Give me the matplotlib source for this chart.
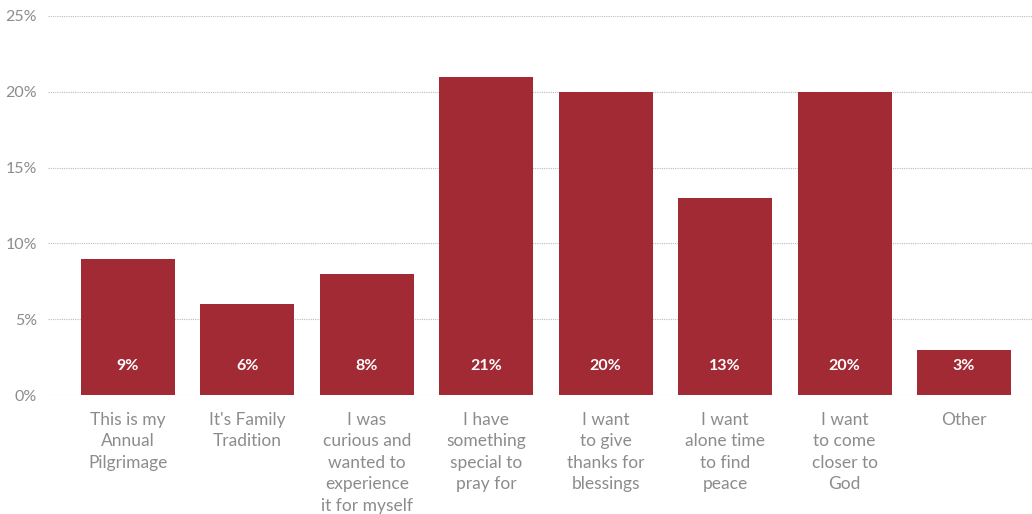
import matplotlib.pyplot as plt
import numpy as np

plt.rcParams['font.family'] = ['Lato', 'DejaVu Sans']

# Reasons for making the pilgrimage (share of respondents, %)
reasons = [
    "This is my\nAnnual\nPilgrimage",
    "It's Family\nTradition",
    "I was\ncurious and\nwanted to\nexperience\nit for myself",
    "I have\nsomething\nspecial to\npray for",
    "I want\nto give\nthanks for\nblessings",
    "I want\nalone time\nto find\npeace",
    "I want\nto come\ncloser to\nGod",
    "Other",
]
shares = [9, 6, 8, 21, 20, 13, 20, 3]
y_ticks = [0, 5, 10, 15, 20, 25]

bar_color = '#A12A34'
text_grey = '#8c8c8c'

fig = plt.figure(figsize=(10.32, 5.14), dpi=100)
ax = fig.add_axes([0.0465, 0.2315, 0.9535, 0.7374])

x = np.arange(len(shares))
ax.bar(x, shares, width=0.787, color=bar_color, zorder=2)

# value labels near the bottom of each bar
for xi, v in zip(x, shares):
    ax.text(xi, 1.9, f"{v}%", ha='center', va='center', color='white',
            fontsize=11.5, fontweight='bold', zorder=3)

ax.set_ylim(0, 25)
ax.set_xlim(-0.67, 7.57)
ax.set_yticks(y_ticks)
ax.set_yticklabels([f"{t}%" for t in y_ticks], fontsize=11.5, color=text_grey)
ax.set_xticks(x)
ax.set_xticklabels(reasons, fontsize=12.5, color=text_grey, linespacing=1.42, va='top')

ax.tick_params(axis='y', length=0, pad=8)
ax.tick_params(axis='x', length=0, pad=12)
for side in ax.spines:
    ax.spines[side].set_visible(False)

ax.grid(axis='y', color='#bdbdbd', linestyle=(0, (1, 1)), linewidth=0.8, zorder=0)
ax.set_axisbelow(True)

fig.savefig('out.png', dpi=100)
